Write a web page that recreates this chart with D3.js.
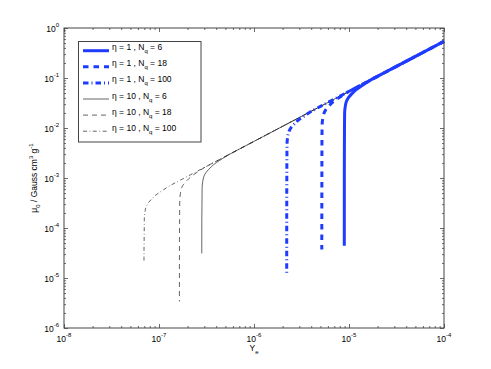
<!DOCTYPE html>
<meta charset="utf-8">
<script src="https://d3js.org/d3.v7.min.js"></script>
<style>
  body { margin: 0; background: #fff; }
  text { font-family: "Liberation Sans", Arial, sans-serif; fill: #000; }
</style>
<div id="chart"></div>
<script>
// ---- data (Y_e, mu_0) ----
var ye_eta1_nq6   = [8.92e-6, 8.93e-6, 8.96e-6, 8.99e-6, 9.14e-6, 9.36e-6, 9.83e-6, 1.061e-5, 1.192e-5, 1.376e-5, 1.675e-5, 1e-4];
var mu_eta1_nq6   = [4.4e-5, 1.0e-3, 8.0e-3, 0.0193, 0.0271, 0.0334, 0.0402, 0.0475, 0.0587, 0.0711, 0.0905, 0.54];
var ye_eta1_nq18  = [5.17e-6, 5.18e-6, 5.19e-6, 5.21e-6, 5.30e-6, 5.43e-6, 5.70e-6, 6.15e-6, 6.91e-6, 7.98e-6, 9.71e-6, 1e-4];
var mu_eta1_nq18  = [3.7e-5, 5.8e-4, 4.64e-3, 0.01119, 0.01571, 0.01936, 0.0233, 0.02753, 0.0340, 0.0412, 0.0525, 0.54];
var ye_eta1_nq100 = [2.21e-6, 2.212e-6, 2.219e-6, 2.227e-6, 2.264e-6, 2.318e-6, 2.435e-6, 2.628e-6, 2.953e-6, 3.408e-6, 4.149e-6, 1e-4];
var mu_eta1_nq100 = [1.18e-5, 2.48e-4, 1.98e-3, 4.78e-3, 6.71e-3, 8.27e-3, 9.96e-3, 0.01177, 0.01454, 0.01761, 0.02242, 0.54];
var ye_eta10_nq6   = [2.82e-7, 2.823e-7, 2.832e-7, 2.842e-7, 2.889e-7, 2.959e-7, 3.107e-7, 3.354e-7, 3.768e-7, 4.350e-7, 5.295e-7, 1e-4];
var mu_eta10_nq6   = [3.1e-5, 1.5e-4, 2.53e-4, 6.10e-4, 8.57e-4, 1.056e-3, 1.271e-3, 1.501e-3, 1.856e-3, 2.248e-3, 2.861e-3, 0.54];
var ye_eta10_nq18  = [1.64e-7, 1.642e-7, 1.648e-7, 1.653e-7, 1.681e-7, 1.721e-7, 1.808e-7, 1.951e-7, 2.192e-7, 2.531e-7, 3.080e-7, 1e-4];
var mu_eta10_nq18  = [3.4e-6, 6.0e-5, 1.47e-4, 3.55e-4, 4.99e-4, 6.14e-4, 7.39e-4, 8.74e-4, 1.080e-3, 1.308e-3, 1.664e-3, 0.54];
var ye_eta10_nq100 = [6.95e-8, 6.957e-8, 6.98e-8, 7.004e-8, 7.121e-8, 7.293e-8, 7.659e-8, 8.266e-8, 9.287e-8, 1.072e-7, 1.305e-7, 1e-4];
var mu_eta10_nq100 = [2.1e-5, 4.0e-5, 6.23e-5, 1.504e-4, 2.111e-4, 2.602e-4, 3.132e-4, 3.701e-4, 4.573e-4, 5.539e-4, 7.051e-4, 0.54];

var etaLabels = ["1", "1", "1", "10", "10", "10"];
var nqLabels  = ["6", "18", "100", "6", "18", "100"];

var xTickExp = [-8, -7, -6, -5, -4];
var yTickExp = [-6, -5, -4, -3, -2, -1, 0];

// ---- layout ----
var W = 491, H = 369;
var margin = {top: 28, right: 47, bottom: 41, left: 64};
var width = W - margin.left - margin.right,
    height = H - margin.top - margin.bottom;

var blue = "#1f3bff";
var series = [
  {xs: ye_eta1_nq6,    ys: mu_eta1_nq6,    color: blue,   w: 3,   dash: null},
  {xs: ye_eta1_nq18,   ys: mu_eta1_nq18,   color: blue,   w: 3,   dash: "5.5,5"},
  {xs: ye_eta1_nq100,  ys: mu_eta1_nq100,  color: blue,   w: 3,   dash: "5.5,3,1,3"},
  {xs: ye_eta10_nq6,   ys: mu_eta10_nq6,   color: "#222", w: 0.7, dash: null},
  {xs: ye_eta10_nq18,  ys: mu_eta10_nq18,  color: "#222", w: 0.7, dash: "5,4"},
  {xs: ye_eta10_nq100, ys: mu_eta10_nq100, color: "#222", w: 0.7, dash: "4,2.5,0.8,2.5"}
];

var svg = d3.select("#chart").append("svg")
    .attr("width", W).attr("height", H);

var x = d3.scaleLog().domain([1e-8, 1e-4]).range([margin.left, margin.left + width]);
var y = d3.scaleLog().domain([1e-6, 1]).range([margin.top + height, margin.top]);

// minor tick positions 2..9 per decade
var xMinor = [], yMinor = [];
xTickExp.slice(0, -1).forEach(function(e) { for (var k = 2; k < 10; k++) xMinor.push(k * Math.pow(10, e)); });
yTickExp.slice(0, -1).forEach(function(e) { for (var k = 2; k < 10; k++) yMinor.push(k * Math.pow(10, e)); });
var xMajor = xTickExp.map(function(e) { return Math.pow(10, e); });
var yMajor = yTickExp.map(function(e) { return Math.pow(10, e); });

function styleAxis(g) {
  g.select(".domain").remove();
  g.selectAll(".tick line").attr("stroke", "#444").attr("stroke-width", 0.8);
}

// ticks (inside, on all four sides)
svg.append("g").attr("transform", "translate(0," + (margin.top + height) + ")")
  .call(d3.axisBottom(x).tickValues(xMajor).tickSize(-4).tickFormat("")).call(styleAxis);
svg.append("g").attr("transform", "translate(0," + (margin.top + height) + ")")
  .call(d3.axisBottom(x).tickValues(xMinor).tickSize(-2).tickFormat("")).call(styleAxis);
svg.append("g").attr("transform", "translate(0," + margin.top + ")")
  .call(d3.axisTop(x).tickValues(xMajor).tickSize(-4).tickFormat("")).call(styleAxis);
svg.append("g").attr("transform", "translate(0," + margin.top + ")")
  .call(d3.axisTop(x).tickValues(xMinor).tickSize(-2).tickFormat("")).call(styleAxis);
svg.append("g").attr("transform", "translate(" + margin.left + ",0)")
  .call(d3.axisLeft(y).tickValues(yMajor).tickSize(-4).tickFormat("")).call(styleAxis);
svg.append("g").attr("transform", "translate(" + margin.left + ",0)")
  .call(d3.axisLeft(y).tickValues(yMinor).tickSize(-2).tickFormat("")).call(styleAxis);
svg.append("g").attr("transform", "translate(" + (margin.left + width) + ",0)")
  .call(d3.axisRight(y).tickValues(yMajor).tickSize(-4).tickFormat("")).call(styleAxis);
svg.append("g").attr("transform", "translate(" + (margin.left + width) + ",0)")
  .call(d3.axisRight(y).tickValues(yMinor).tickSize(-2).tickFormat("")).call(styleAxis);

// tick labels 10^e
var xl = svg.append("g").selectAll("text").data(xTickExp).enter().append("text")
  .attr("x", function(e) { return x(Math.pow(10, e)); })
  .attr("y", margin.top + height + 13.5)
  .attr("text-anchor", "middle")
  .style("font-size", "8.5px");
xl.append("tspan").text("10");
xl.append("tspan").attr("dy", -5).style("font-size", "6px").text(function(e) { return e; });

var yl = svg.append("g").selectAll("text").data(yTickExp).enter().append("text")
  .attr("x", margin.left - 5)
  .attr("y", function(e) { return y(Math.pow(10, e)) + 3.7; })
  .attr("text-anchor", "end")
  .style("font-size", "8.5px");
yl.append("tspan").text("10");
yl.append("tspan").attr("dy", -4.5).style("font-size", "6px").text(function(e) { return e; });

// curves: straight power-law stretch from the right edge, then the smooth knee
var curved = d3.line()
  .x(function(d) { return x(d[0]); })
  .y(function(d) { return y(d[1]); })
  .curve(d3.curveMonotoneY);
var straight = d3.line()
  .x(function(d) { return x(d[0]); })
  .y(function(d) { return y(d[1]); });

var plot = svg.append("g");
[3, 4, 5, 0, 1, 2].forEach(function(i) {
  var s = series[i];
  var pts = s.xs.map(function(v, j) { return [v, s.ys[j]]; });
  var n = pts.length;
  var d = straight([pts[n - 1], pts[n - 2]]) +
          curved(pts.slice(0, n - 1).reverse()).replace(/^M/, "L");
  plot.append("path")
    .attr("d", d)
    .attr("fill", "none")
    .attr("stroke", s.color)
    .attr("stroke-width", s.w)
    .attr("stroke-dasharray", s.dash);
});

// frame
svg.append("rect")
  .attr("x", margin.left).attr("y", margin.top)
  .attr("width", width).attr("height", height)
  .attr("fill", "none").attr("stroke", "#444").attr("stroke-width", 1);

// axis titles
var xt = svg.append("text")
  .attr("x", x(1e-6)).attr("y", 350.5)
  .attr("text-anchor", "middle").style("font-size", "8.5px");
xt.append("tspan").text("Y");
xt.append("tspan").attr("dy", 3).style("font-size", "6px").text("e");

var yt = svg.append("text")
  .attr("transform", "translate(37," + (margin.top + height / 2) + ") rotate(-90)")
  .attr("text-anchor", "middle").style("font-size", "8.5px");
yt.append("tspan").text("\u03bc");
yt.append("tspan").attr("dy", 3).style("font-size", "6px").text("0");
yt.append("tspan").attr("dy", -3).text(" / Gauss cm");
yt.append("tspan").attr("dy", -4).style("font-size", "6px").text("3");
yt.append("tspan").attr("dy", 4).text(" g");
yt.append("tspan").attr("dy", -4).style("font-size", "6px").text("-1");

// legend
var lg = svg.append("g");
lg.append("rect")
  .attr("x", 78.5).attr("y", 41.5).attr("width", 122.5).attr("height", 100.5)
  .attr("fill", "#fff").attr("stroke", "#444").attr("stroke-width", 1);
series.forEach(function(s, i) {
  var ry = 50.7 + i * 16.1;
  lg.append("line")
    .attr("x1", 83).attr("x2", 109).attr("y1", ry).attr("y2", ry)
    .attr("stroke", s.color).attr("stroke-width", s.w)
    .attr("stroke-dasharray", s.dash);
  var t = lg.append("text").attr("x", 112).attr("y", ry - 0.5).style("font-size", "8.5px");
  t.append("tspan").text("\u03b7 = " + etaLabels[i] + " , N");
  t.append("tspan").attr("dy", 3).style("font-size", "6px").text("q");
  t.append("tspan").attr("dy", -3).text(" = " + nqLabels[i]);
});
</script>
